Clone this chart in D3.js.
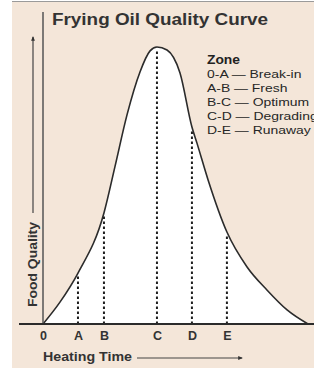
<!DOCTYPE html>
<html>
<head>
<meta charset="utf-8">
<script src="https://cdn.jsdelivr.net/npm/d3@7"></script>
<style>
  html, body { margin: 0; padding: 0; background: #fff; }
  svg { display: block; font-family: "Liberation Sans", Arial, sans-serif; }
</style>
</head>
<body>
<div id="chart"></div>
<script>
// heating time (0-100) vs food quality (0-100)
var curveTime    = [0, 6.4, 13.2, 23.0, 27.2, 31.7, 36.6, 40.4, 43.0, 46.8, 51.7, 56.2, 58.1, 62.3, 69.4, 77.0, 84.5, 92.1, 100];
var curveQuality = [0, 7.9, 18.4, 40.1, 57.0, 75.5, 91.0, 98.6, 100, 98.9, 90.6, 71.1, 65.3, 52.0, 33.2, 20.6, 12.3, 5.1, 0];

var tickLabels  = ["0", "A", "B", "C", "D", "E"];
var tickTime    = [0, 13.2, 23.0, 43.0, 56.2, 69.4];
var markQuality = [0, 18.4, 40.1, 100, 71.1, 33.2];

var zoneLegend = ["0-A \u2014 Break-in", "A-B \u2014 Fresh", "B-C \u2014 Optimum", "C-D \u2014 Degrading", "D-E \u2014 Runaway"];

var W = 314, H = 369;
var ink = "#2b2b2b";

var svg = d3.select("#chart").append("svg")
    .attr("width", W)
    .attr("height", H);

svg.append("rect")
    .attr("x", 12).attr("y", 2)
    .attr("width", W - 12).attr("height", 366)
    .attr("fill", "#f4e6d9");
svg.append("line")
    .attr("x1", 12).attr("x2", W).attr("y1", 1.5).attr("y2", 1.5)
    .attr("stroke", "#9a9a9a").attr("stroke-width", 1);

var x = d3.scaleLinear().domain([0, 100]).range([43, 308]);
var y = d3.scaleLinear().domain([0, 100]).range([324, 47]);

var pts = curveTime.map(function (t, i) { return [t, curveQuality[i]]; });

var area = d3.area()
    .x(function (d) { return x(d[0]); })
    .y0(y(0))
    .y1(function (d) { return y(d[1]); })
    .curve(d3.curveMonotoneX);

var line = d3.line()
    .x(function (d) { return x(d[0]); })
    .y(function (d) { return y(d[1]); })
    .curve(d3.curveMonotoneX);

svg.append("path")
    .attr("d", area(pts))
    .attr("fill", "#fff");

// dotted zone markers
svg.selectAll(".mark")
    .data(tickTime.slice(1))
    .enter().append("line")
    .attr("class", "mark")
    .attr("x1", function (d) { return x(d); })
    .attr("x2", function (d) { return x(d); })
    .attr("y1", y(0))
    .attr("y2", function (d, i) { return y(markQuality[i + 1]) + 2; })
    .attr("stroke", "#1e1e1e")
    .attr("stroke-width", 2)
    .attr("stroke-dasharray", "2.4,2.6");

svg.append("path")
    .attr("d", line(pts))
    .attr("fill", "none")
    .attr("stroke", ink)
    .attr("stroke-width", 1.6);

// axes
svg.append("line")
    .attr("x1", x(0)).attr("x2", x(0))
    .attr("y1", 12).attr("y2", y(0))
    .attr("stroke", "#555").attr("stroke-width", 1.5);

var xAxis = d3.axisBottom(x)
    .tickValues(tickTime)
    .tickFormat(function (d, i) { return tickLabels[i]; })
    .tickSize(0)
    .tickPadding(7);

var gx = svg.append("g")
    .attr("transform", "translate(0," + y(0) + ")")
    .call(xAxis);
gx.select(".domain").remove();
gx.append("line")
    .attr("x1", 19).attr("x2", W)
    .attr("stroke", ink).attr("stroke-width", 2);
gx.selectAll(".tick text")
    .attr("fill", "#333")
    .attr("font-size", 12.5)
    .attr("font-family", "Liberation Sans, Arial, sans-serif")
    .attr("font-weight", "bold")
    .attr("dy", null)
    .attr("y", 15.5);

function fit(sel, w) {
    sel.attr("textLength", w).attr("lengthAdjust", "spacingAndGlyphs");
}

// title
svg.append("text")
    .attr("x", 52).attr("y", 25)
    .attr("font-size", 16).attr("font-weight", "bold")
    .attr("fill", "#333")
    .text("Frying Oil Quality Curve")
    .call(fit, 216);

// legend
var lg = svg.append("g").attr("transform", "translate(207,0)");
lg.append("text")
    .attr("y", 64)
    .attr("font-size", 12).attr("font-weight", "bold")
    .attr("fill", "#222")
    .text("Zone")
    .call(fit, 33);
lg.selectAll(".zone")
    .data(zoneLegend)
    .enter().append("text")
    .attr("class", "zone")
    .attr("y", function (d, i) { return 78 + i * 13.9; })
    .attr("font-size", 11.8)
    .attr("fill", "#262626")
    .text(function (d) { return d; })
    .each(function () {
        var len = this.getComputedTextLength();
        d3.select(this).call(fit, len * 1.18);
    });

// axis titles with arrows
svg.append("text")
    .attr("x", 43).attr("y", 361)
    .attr("font-size", 12).attr("font-weight", "bold")
    .attr("fill", "#333")
    .text("Heating Time")
    .call(fit, 89);

var defs = svg.append("defs");
defs.append("marker")
    .attr("id", "arr")
    .attr("viewBox", "0 0 10 10")
    .attr("refX", 8).attr("refY", 5)
    .attr("markerWidth", 4).attr("markerHeight", 4)
    .attr("orient", "auto")
    .append("path")
    .attr("d", "M0,1L10,5L0,9Z")
    .attr("fill", "#333");

svg.append("line")
    .attr("x1", 137).attr("x2", 242)
    .attr("y1", 358).attr("y2", 358)
    .attr("stroke", "#444").attr("stroke-width", 1.2)
    .attr("marker-end", "url(#arr)");

svg.append("line")
    .attr("x1", 33).attr("x2", 33)
    .attr("y1", 213).attr("y2", 37)
    .attr("stroke", "#444").attr("stroke-width", 1.2)
    .attr("marker-end", "url(#arr)");

svg.append("text")
    .attr("transform", "translate(37,307) rotate(-90)")
    .attr("font-size", 12).attr("font-weight", "bold")
    .attr("fill", "#333")
    .text("Food Quality")
    .call(fit, 85);
</script>
</body>
</html>
